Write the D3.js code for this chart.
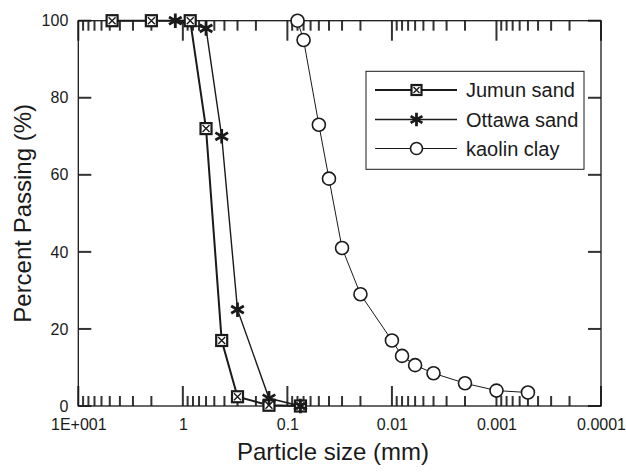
<!DOCTYPE html>
<html>
<head>
<meta charset="utf-8">
<script src="https://cdn.jsdelivr.net/npm/d3@7"></script>
<style>
  body { margin: 0; background: #fff; }
  svg { display: block; font-family: "Liberation Sans", Arial, sans-serif; }
</style>
</head>
<body>
<div id="chart"></div>
<script>
// sieve sizes (mm) and percent passing
const jumunSize = [4.75, 2.0, 0.85, 0.6, 0.425, 0.3, 0.15, 0.075];
const jumunPass = [100, 100, 100, 72, 17, 2.4, 0.2, 0];
const ottawaSize = [1.18, 0.6, 0.425, 0.3, 0.15, 0.075];
const ottawaPass = [100, 98, 70, 25, 2, 0];
const kaolinSize = [0.08, 0.07, 0.05, 0.04, 0.03, 0.02, 0.01, 0.008, 0.006, 0.004, 0.002, 0.001, 0.0005];
const kaolinPass = [100, 95, 73, 59, 41, 29, 17, 13, 10.6, 8.5, 5.9, 4, 3.5];

const xTicks = [10, 1, 0.1, 0.01, 0.001, 0.0001];
const xTickLabels = ["1E+001", "1", "0.1", "0.01", "0.001", "0.0001"];
const yTicks = [0, 20, 40, 60, 80, 100];
const seriesNames = ["Jumun sand", "Ottawa sand", "kaolin clay"];

const width = 626, height = 476;
const plotLeft = 78.3, plotRight = 601, plotTop = 20.7, plotBottom = 406;
const ink = "#1a1a1a";
const tickInk = "#333";

const x = d3.scaleLog().domain([10, 0.0001]).range([plotLeft, plotRight]);
const y = d3.scaleLinear().domain([0, 100]).range([plotBottom, plotTop]);

const svg = d3.select("#chart").append("svg")
  .attr("width", width)
  .attr("height", height);

// minor ticks: 2..9 in every decade
const minorTicks = [];
for (let e = -4; e < 1; e++) {
  for (let m = 2; m <= 9; m++) minorTicks.push(m * Math.pow(10, e));
}

// tick marks pointing into the plot
const ticks = svg.append("g").attr("class", "ticks");
ticks.selectAll("line.xb")
  .data(minorTicks.concat(xTicks))
  .enter().append("line")
  .attr("class", "xb")
  .attr("x1", (d) => x(d)).attr("x2", (d) => x(d))
  .attr("y1", plotBottom)
  .attr("y2", (d) => plotBottom - (xTicks.includes(d) ? 20 : 10))
  .attr("stroke", tickInk).attr("stroke-width", 2);
ticks.selectAll("line.xt")
  .data(minorTicks.concat(xTicks))
  .enter().append("line")
  .attr("class", "xt")
  .attr("x1", (d) => x(d)).attr("x2", (d) => x(d))
  .attr("y1", plotTop)
  .attr("y2", (d) => plotTop + (xTicks.includes(d) ? 20 : 10))
  .attr("stroke", tickInk).attr("stroke-width", 2);
ticks.selectAll("line.yl")
  .data(yTicks)
  .enter().append("line")
  .attr("class", "yl")
  .attr("x1", plotLeft).attr("x2", plotLeft + 13)
  .attr("y1", (d) => y(d)).attr("y2", (d) => y(d))
  .attr("stroke", tickInk).attr("stroke-width", 2);
ticks.selectAll("line.yr")
  .data(yTicks)
  .enter().append("line")
  .attr("class", "yr")
  .attr("x1", plotRight).attr("x2", plotRight - 13)
  .attr("y1", (d) => y(d)).attr("y2", (d) => y(d))
  .attr("stroke", tickInk).attr("stroke-width", 2);

// plot frame
svg.append("rect")
  .attr("x", plotLeft)
  .attr("y", plotTop)
  .attr("width", plotRight - plotLeft)
  .attr("height", plotBottom - plotTop)
  .attr("fill", "none")
  .attr("stroke", ink)
  .attr("stroke-width", 1.3);

function styleLabels(g) {
  g.select(".domain").remove();
  g.selectAll(".tick line").remove();
  g.selectAll(".tick text")
    .attr("font-size", 16)
    .attr("font-family", "Liberation Sans, Arial, sans-serif")
    .attr("fill", ink);
}

// tick labels
const xAxis = d3.axisBottom(x)
  .tickValues(xTicks)
  .tickSize(0)
  .tickPadding(13)
  .tickFormat((d, i) => xTickLabels[i]);

svg.append("g")
  .attr("transform", `translate(0,${plotBottom})`)
  .call(xAxis)
  .call(styleLabels);

const yAxis = d3.axisLeft(y)
  .tickValues(yTicks)
  .tickSize(0)
  .tickPadding(10);

svg.append("g")
  .attr("transform", `translate(${plotLeft},0)`)
  .call(yAxis)
  .call(styleLabels);

// axis titles
svg.append("text")
  .attr("x", 333)
  .attr("y", 460)
  .attr("text-anchor", "middle")
  .attr("font-size", 24)
  .attr("fill", ink)
  .text("Particle size (mm)");

svg.append("text")
  .attr("transform", `translate(31,${(plotTop + plotBottom) / 2}) rotate(-90)`)
  .attr("text-anchor", "middle")
  .attr("font-size", 24)
  .attr("fill", ink)
  .text("Percent Passing (%)");

// series
const line = d3.line().x((d) => x(d[0])).y((d) => y(d[1]));
const zip = (a, b) => a.map((v, i) => [v, b[i]]);

const jumun = zip(jumunSize, jumunPass);
const ottawa = zip(ottawaSize, ottawaPass);
const kaolin = zip(kaolinSize, kaolinPass);

function boxX(g, s) {
  const h = s / 2;
  g.append("rect")
    .attr("x", -h).attr("y", -h).attr("width", s).attr("height", s)
    .attr("fill", "#fff").attr("stroke", ink).attr("stroke-width", 2.2);
  g.append("path")
    .attr("d", `M${-h + 2},${-h + 2}L${h - 2},${h - 2}M${-h + 2},${h - 2}L${h - 2},${-h + 2}`)
    .attr("stroke", ink).attr("stroke-width", 1.4);
}

function star(g, size) {
  g.append("path")
    .attr("d", d3.symbol(d3.symbolAsterisk, size)())
    .attr("fill", "none").attr("stroke", ink).attr("stroke-width", 2.8);
}

function ring(g, r) {
  g.append("circle")
    .attr("r", r)
    .attr("fill", "#fff").attr("stroke", ink).attr("stroke-width", 1.6);
}

const plot = svg.append("g");

plot.append("path").datum(kaolin)
  .attr("d", line).attr("fill", "none").attr("stroke", ink).attr("stroke-width", 1);
plot.append("path").datum(ottawa)
  .attr("d", line).attr("fill", "none").attr("stroke", ink).attr("stroke-width", 1.4);
plot.append("path").datum(jumun)
  .attr("d", line).attr("fill", "none").attr("stroke", ink).attr("stroke-width", 2);

plot.selectAll("g.kaolin")
  .data(kaolin)
  .enter().append("g")
  .attr("class", "kaolin")
  .attr("transform", (d) => `translate(${x(d[0])},${y(d[1])})`)
  .each(function () { ring(d3.select(this), 6.5); });

plot.selectAll("g.jumun")
  .data(jumun)
  .enter().append("g")
  .attr("class", "jumun")
  .attr("transform", (d) => `translate(${x(d[0])},${y(d[1])})`)
  .each(function () { boxX(d3.select(this), 11); });

plot.selectAll("g.ottawa")
  .data(ottawa)
  .enter().append("g")
  .attr("class", "ottawa")
  .attr("transform", (d) => `translate(${x(d[0])},${y(d[1])})`)
  .each(function () { star(d3.select(this), 150); });

// legend
const legend = svg.append("g");
legend.append("rect")
  .attr("x", 366).attr("y", 71.3)
  .attr("width", 218).attr("height", 98)
  .attr("fill", "#fff").attr("stroke", ink).attr("stroke-width", 1);

const legendY = [90, 119.5, 148.5];
const legendWidths = [2, 1.4, 1];
const markers = [(g) => boxX(g, 10), (g) => star(g, 130), (g) => ring(g, 6)];

seriesNames.forEach((name, i) => {
  const row = legend.append("g").attr("transform", `translate(0,${legendY[i]})`);
  row.append("line")
    .attr("x1", 375).attr("x2", 457)
    .attr("stroke", ink).attr("stroke-width", legendWidths[i]);
  markers[i](row.append("g").attr("transform", "translate(416.5,0)"));
  row.append("text")
    .attr("x", 466).attr("y", 7)
    .attr("font-size", 20)
    .attr("fill", ink)
    .text(name);
});
</script>
</body>
</html>
